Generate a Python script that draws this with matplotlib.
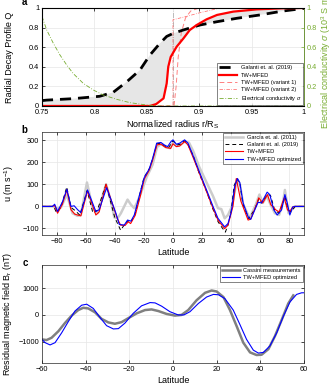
import numpy as np
import matplotlib
matplotlib.use('Agg')
import matplotlib.pyplot as plt

plt.rcParams['font.family'] = ['Liberation Sans', 'DejaVu Sans']
plt.rcParams['mathtext.fontset'] = 'custom'
plt.rcParams['mathtext.rm'] = 'Liberation Sans'
plt.rcParams['mathtext.it'] = 'Liberation Sans:italic'

#%% data, panel a
r_gal = [0.75, 0.7545, 0.78, 0.805, 0.818, 0.831, 0.8435, 0.853, 0.8626, 0.869, 0.875,
         0.885, 0.901, 0.917, 0.936, 0.958, 0.980, 1.0]
q_gal = [0.055, 0.06, 0.075, 0.099, 0.14, 0.248, 0.367, 0.52, 0.64, 0.71, 0.74,
         0.776, 0.827, 0.86, 0.895, 0.929, 0.969, 0.996]

r_tw = [0.75, 0.853, 0.859, 0.866, 0.869, 0.8705, 0.8728, 0.8785, 0.885, 0.891, 0.8976,
        0.907, 0.917, 0.9325, 0.955, 0.98, 1.0]
q_tw = [0.0, 0.0, 0.02, 0.078, 0.231, 0.4, 0.5, 0.605, 0.69, 0.775, 0.826,
        0.884, 0.929, 0.963, 0.986, 0.997, 1.0]

r_v1 = [0.75, 0.876, 0.878, 0.880, 0.883, 0.887, 0.892, 0.9, 1.0]
q_v1 = [0.0, 0.0, 0.2, 0.5, 0.75, 0.9, 0.97, 1.0, 1.0]

r_v2 = [0.75, 0.875, 0.875, 0.89, 0.90, 0.92, 1.0]
q_v2 = [0.0, 0.0, 0.88, 0.92, 0.95, 1.0, 1.0]

r_sig = [0.75, 0.7545, 0.7608, 0.7672, 0.7736, 0.7799, 0.7894, 0.799, 0.8085, 0.8213,
         0.834, 0.85, 0.863, 1.0]
sig = [0.915, 0.776, 0.64, 0.52, 0.418, 0.33, 0.231, 0.163, 0.112, 0.068,
       0.034, 0.01, 0.0, 0.0]

#%% data, panel b
lat_gar = [-90, -82, -80, -77, -72.9, -69, -65.6, -63.3, -59.1, -55.2, -51.8, -46, -42.6,
           -40.3, -38.1, -35.8, -33.5, -31.2, -28.9, -26.6, -24.3, -22, -18, -14, -11, -8,
           -5, -2, 0, 3, 5, 8, 11, 14, 18, 23, 27.5, 30.9, 33.2, 35.5, 37.8, 40.5, 44,
           46, 48.2, 52.7, 57, 59.4, 61.7, 64.5, 66.5, 70, 72.9, 75.7, 76.9, 78.3, 79.4,
           81.4, 83.5, 90]
u_gar = [0, 0, -10, -5, 54, -31, -43, -39, 109, -8, -31, 101, 23,
         -50, -54, -31, 0, 31, 8, -8, 23, 62, 135, 190, 270, 285,
         270, 265, 290, 275, 280, 295, 290, 250, 180, 110, 47, -8, -12, -54, -39, 0, 124,
         100, 10, -54, 10, 54, 16, 47, 16, -31, -39, 23, 75, 15, -31,
         -16, 0, 0]

lat_gal = [-90, -82, -80, -77, -73, -70, -67, -64, -59, -55, -52, -46, -43, -40, -36,
           -33, -31, -29, -26, -23, -20, -16, -14, -11, -8, -6, -3, 0, 3, 5, 8, 10, 14,
           18, 23, 27, 31, 33, 36, 38, 40, 42, 44, 46, 48, 52, 56, 59, 61, 65, 67, 70,
           73, 77, 79, 81, 84, 90]
u_gal = [0, 0, -28, -5, 88, -5, -20, -40, 72, -30, -18, 100, 25, -50, -108,
         -80, -65, -72, -35, 50, 130, 175, 215, 285, 288, 275, 268, 298, 280, 283, 298, 285, 230,
         150, 70, -5, -70, -90, -117, -80, -20, 95, 125, 105, 10, -55, -15, 35, 15, 55, 50, -20,
         -30, 45, -15, -25, 0, 0]

lat_red = [-90, -82.8, -81.3, -79.3, -76, -72.9, -70.1, -67.5, -65.6, -63.3, -58.7, -53,
           -50.7, -46, -42.6, -38.3, -36, -33, -30.7, -29.1, -25.9, -22.5, -19.7, -16.3,
           -14, -11, -8.3, -5, -1.6, 0, 2.3, 4.6, 8, 10.3, 13.7, 18.3, 22.9, 27.5, 30.9,
           35.5, 37.8, 41.2, 43.5, 46.6, 51.6, 53.4, 57.5, 58.9, 61.7, 64.9, 67.2, 70.7,
           73, 76.4, 78.7, 80.3, 82.2, 83.8, 90]
u_red = [0, 0, 5, -31, 10, 75, -15, -35, -39, -43, 70, -39,
         -25, 101, 31, -54, -85, -87, -70, -78, -40, 45, 125, 165,
         210, 280, 283, 268, 264, 285, 272, 275, 295, 280, 225, 148, 70, -8, -62,
         -101, -85, 0, 127, 25, -62, -58, 10, 39, 16, 54, 8, -16,
         -25, 39, -16, -23, -3, 0, 0]

lat_blu = [-90, -82.8, -81.3, -79.3, -76, -72.9, -70.1, -67.9, -65.5, -63.3, -58.7, -53,
           -50.7, -45.6, -42.6, -39.2, -36.9, -33.5, -31.2, -28.9, -26.6, -23.2, -19.7,
           -16.3, -14, -11.2, -8.3, -6, -3.7, -1.4, 0, 2.3, 4.6, 8, 10.3, 13.7, 18.3,
           22.9, 27.5, 30.9, 35.5, 37.8, 40.1, 42.4, 44.3, 45.9, 48.2, 51.6, 53.4, 56.2,
           58.5, 60.8, 64.7, 66.5, 69.3, 71.6, 74.6, 76.9, 78.5, 80.3, 82.2, 83.8, 90]
u_blu = [0, 0, 10, -23, 20, 78, 0, 3, -15, -28, 75, -23,
         -15, 85, 31, -31, -82, -85, -62, -67, -39, 47, 132,
         171, 218, 288, 291, 280, 272, 295, 303, 283, 288, 303, 288, 233, 155,
         78, 0, -54, -93, -78, -23, 93, 127, 109, 16, -47, -59, -16,
         19, 16, 65, 54, -16, -39, -16, 54, 16, -39, -3, 0, 0]

#%% data, panel c
lat_cas = [-60, -57.9, -55.6, -52.5, -49.5, -46.4, -43.4, -41.1, -38.8, -35.7, -32.7, -29.6,
           -26.6, -23.5, -20.5, -16.6, -12.8, -9.8, -6.7, -2.9, 0.9, 3.9, 7.0, 10.8, 14.7,
           17.7, 20, 23.1, 26.1, 29.2, 32.2, 35.3, 38.3, 40.6, 43.7, 46.7, 49.8, 52.8, 55.1]
b_cas = [-915, -940, -854, -610, -305, -24, 183, 268, 244, 98, -146, -280,
         -330, -268, -122, 61, 183, 207, 146, 37, -24, 0, 183, 549, 829,
         915, 878, 671, 183, -427, -1037, -1402, -1500, -1488, -1280, -793, -183, 427, 732]

lat_opt = [-60, -58.6, -56.3, -54, -51, -47.9, -44.9, -41.8, -39.5, -36.5, -33.4, -30.4,
           -27.3, -25, -22, -18.2, -14.4, -10.5, -8.2, -5.2, -1.4, 2.4, 5.0, 7.8, 11.6,
           15.4, 18.5, 20.8, 23.8, 27.6, 30.7, 33.7, 36.8, 39.1, 41.4, 44.4, 47.5, 50.5,
           53.6, 56.6, 58.9, 60]
b_opt = [-915, -1037, -1122, -1037, -671, -244, 146, 366, 402, 244, -98, -402,
         -524, -512, -305, 61, 341, 463, 451, 329, 122, 0, 0, 122, 427,
         671, 768, 756, 610, 183, -366, -915, -1317, -1427, -1402, -1159, -671, -61,
         488, 768, 829, 830]

green = '#77AC30'
fs_tick = 5.3
fs_lab = 6.5
fs_leg = 4.1
leg_kw = dict(fontsize=fs_leg, handlelength=3.2, frameon=True, fancybox=False,
              edgecolor='#262626', borderaxespad=0.2, handletextpad=0.6, borderpad=0.35)

fig = plt.figure(figsize=(3.34, 3.86), dpi=100)
axa = fig.add_axes([0.1257, 0.7254, 0.7844, 0.2539])
axb = fig.add_axes([0.1257, 0.3912, 0.7844, 0.2676])
axc = fig.add_axes([0.1257, 0.0588, 0.7844, 0.2547])

for ax in (axa, axb, axc):
    ax.tick_params(direction='in', labelsize=fs_tick, length=2.5, width=0.5, pad=2,
                   top=True, right=(ax is not axa))
    for s in ax.spines.values():
        s.set_linewidth(0.5)
        s.set_color('#262626')
    ax.grid(True, color='#e6e6e6', linewidth=0.5)
    ax.set_axisbelow(True)

#%% panel a
axa.fill(np.concatenate([r_gal, r_tw[::-1]]), np.concatenate([q_gal, q_tw[::-1]]),
         color='#e6e6e6', lw=0, zorder=1)
axa.axvline(0.875, color='#b0b0b0', lw=0.6, ls='-.', zorder=2)
lv1, = axa.plot(r_v1, q_v1, color='#ff8080', lw=0.7, ls=(0, (5, 3)), zorder=3,
                label='TW+MFED (variant 1)')
lv2, = axa.plot(r_v2, q_v2, color='#ff6060', lw=0.5, ls=(0, (5, 2, 1, 2)), zorder=3,
                label='TW+MFED (variant 2)')
la, = axa.plot(r_gal, q_gal, color='k', lw=2.0, ls=(0, (4, 2.5)), zorder=4,
               label='Galanti et. al. (2019)')
lb, = axa.plot(r_tw, q_tw, color='r', lw=1.6, zorder=5, label='TW+MFED')
axa.set_xlim(0.75, 1)
axa.set_ylim(0, 1)
axa.set_xticks([0.75, 0.8, 0.85, 0.9, 0.95, 1])
axa.set_xticklabels(['0.75', '0.8', '0.85', '0.9', '0.95', '1'])
axa.set_yticks([0, 0.2, 0.4, 0.6, 0.8, 1])
axa.set_yticklabels(['0', '0.2', '0.4', '0.6', '0.8', '1'])
axa.set_xlabel('Normalized radius r/R$_\\mathrm{S}$', fontsize=fs_lab)
axa.xaxis.set_label_coords(0.5, -0.125)
axa.set_ylabel('Radial Decay Profile Q', fontsize=fs_lab)
axa.yaxis.set_label_coords(-0.105, 0.5)

axr = axa.twinx()
ls, = axr.plot(r_sig, sig, color=green, lw=0.6, ls=(0, (5, 2, 1, 2)),
               label='Electrical conductivity $\\sigma$')
axr.set_ylim(0, 1)
axr.set_yticks([0, 0.2, 0.4, 0.6, 0.8, 1])
axr.set_yticklabels(['0', '0.2', '0.4', '0.6', '0.8', '1'])
axr.tick_params(direction='in', labelsize=fs_tick, length=2.5, width=0.5, pad=2,
                colors=green)
axr.spines['right'].set_color(green)
axr.spines['right'].set_linewidth(0.5)
axr.set_ylabel('Electrical conductivity $\\sigma$ (10$^3$ S m$^{-1}$)',
               fontsize=fs_lab, color=green)
axr.yaxis.set_label_coords(1.058, 0.5)

h = [la, lb, lv1, lv2, ls]
leg = axr.legend(h, [x.get_label() for x in h], loc='lower right', labelspacing=0.4,
                 **dict(leg_kw, borderaxespad=0.1))
leg.get_frame().set_linewidth(0.5)

#%% panel b
axb.plot(lat_gar, u_gar, color='#cccccc', lw=1.8, label='Garcia et. al. (2011)', zorder=2)
axb.plot(lat_gal, u_gal, color='k', lw=0.7, ls=(0, (4, 3)), label='Galanti et. al. (2019)',
         zorder=3)
axb.plot(lat_red, u_red, color='r', lw=0.8, label='TW+MFED', zorder=4)
axb.plot(lat_blu, u_blu, color='b', lw=0.8, label='TW+MFED optimized', zorder=5)
axb.set_xlim(-90, 90)
axb.set_ylim(-130, 340)
axb.set_xticks(range(-80, 81, 20))
axb.set_yticks([-100, 0, 100, 200, 300])
axb.set_xlabel('Latitude', fontsize=fs_lab)
axb.xaxis.set_label_coords(0.5, -0.125)
axb.set_ylabel('u (m s$^{-1}$)', fontsize=fs_lab)
axb.yaxis.set_label_coords(-0.1, 0.5)
leg = axb.legend(loc='upper right', labelspacing=0.4, **leg_kw)
leg.get_frame().set_linewidth(0.5)

#%% panel c
axc.plot(lat_cas, b_cas, color='#808080', lw=1.8, label='Cassini measurements')
axc.plot(lat_opt, b_opt, color='b', lw=0.8, label='TW+MFED optimized')
axc.set_xlim(-60, 60)
axc.set_ylim(-1810, 1870)
axc.set_xticks(range(-60, 61, 20))
axc.set_yticks([-1000, 0, 1000])
axc.set_xlabel('Latitude', fontsize=fs_lab)
axc.xaxis.set_label_coords(0.5, -0.13)
axc.set_ylabel('Residual magnetic field B$_\\mathrm{r}$ (nT)', fontsize=fs_lab)
axc.yaxis.set_label_coords(-0.105, 0.5)
leg = axc.legend(loc='upper right', labelspacing=0.25, **leg_kw)
leg.get_frame().set_linewidth(0.5)

#%% panel letters
fig.text(0.065, 0.995, 'a', fontsize=7, fontweight='bold', va='center')
fig.text(0.065, 0.663, 'b', fontsize=7, fontweight='bold', va='center')
fig.text(0.068, 0.318, 'c', fontsize=7, fontweight='bold', va='center')

fig.savefig('out.png', dpi=100)
